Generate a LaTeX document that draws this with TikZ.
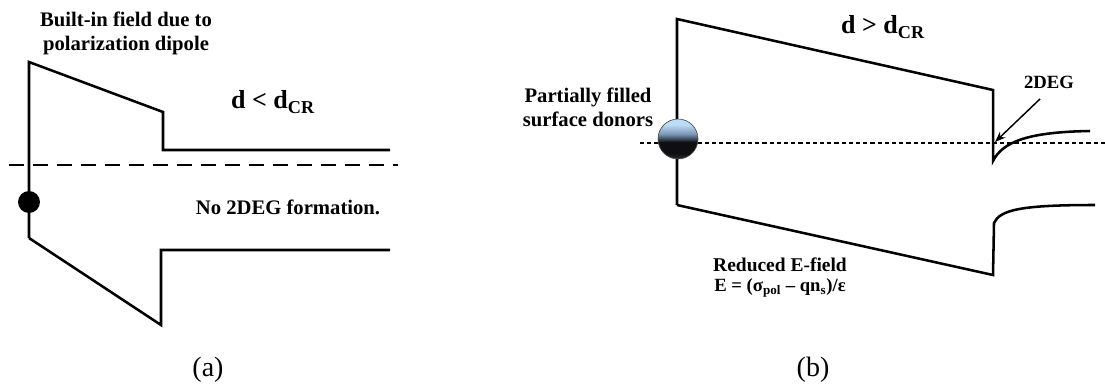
\documentclass[tikz,border=0pt]{standalone}
\usepackage{fontspec}
\setmainfont{Liberation Serif}
\usetikzlibrary{arrows.meta}
\definecolor{ballblue}{RGB}{190,220,245}
\definecolor{ballmid}{RGB}{120,150,180}
\definecolor{balldark}{RGB}{15,15,18}
\definecolor{ballbot}{RGB}{45,45,50}
\pgfdeclareverticalshading{donorball}{100bp}{color(0bp)=(ballbot); color(25bp)=(ballbot); color(32bp)=(balldark); color(46bp)=(balldark); color(56bp)=(ballmid); color(68bp)=(ballblue); color(75bp)=(ballblue); color(100bp)=(ballblue)}
\tikzset{
  band/.style={line width=1.9pt, line join=miter},
  lbl/.style={font=\bfseries\fontsize{15.5}{18}\selectfont, align=center, inner sep=0pt},
  midlbl/.style={font=\bfseries\fontsize{14.6}{17}\selectfont, align=center, inner sep=0pt},
  small/.style={font=\bfseries\fontsize{14}{16}\selectfont, align=center, inner sep=0pt},
  big/.style={font=\bfseries\fontsize{19.5}{22}\selectfont, inner sep=0pt},
  figcap/.style={font=\fontsize{21}{24}\selectfont, inner sep=0pt},
  fermidash/.style={line width=1.3pt, dash pattern=on 11pt off 7pt},
  fermidot/.style={line width=1.3pt, dash pattern=on 3.2pt off 2.2pt},
  pointer/.style={line width=1.1pt, -{Stealth[length=8pt,width=6pt]}}
}
\begin{document}
\begin{tikzpicture}[x=0.75pt,y=-0.75pt]
\useasboundingbox (0,0) rectangle (1105,385);
% ---------------- (a) ----------------
\draw[fermidash] (9,165) -- (398,165);
\draw[band] (29,238) -- (29,62) -- (163,112) -- (163,150) -- (390,150);
\draw[band] (390,250) -- (161,250) -- (161,325) -- (29,238);
\fill (29,202) circle (11);
\node[lbl] (bif) at (126,33) {Built-in field due to\\polarization dipole};
\node[big] (dlt) at (273,102) {d {<} d\textsubscript{CR}};
\node[lbl] (no2deg) at (288,207) {No 2DEG formation.};
\node[figcap] (capa) at (208,370) {(a)};
% ---------------- (b) ----------------
\draw[fermidot] (640,143) -- (1105,143);
\draw[band] (677,205) -- (677,19) -- (993,90) -- (993,161) .. controls (1003,141) and (1030,132) .. (1090,131);
\draw[band] (677,205) -- (993,275) -- (994,223) .. controls (1000,210) and (1020,205) .. (1095,205);
\shade[shading=donorball, draw=gray!60!black, line width=0.5pt] (678,139) circle (20);
\node[lbl] (psd) at (588,107) {Partially filled\\surface donors};
\node[big] (dgt) at (883,27) {d {>} d\textsubscript{CR}};
\node[small] (deg) at (1049,82) {2DEG};
\coordinate (tdeg) at (1040,99);
\coordinate (hdeg) at (995,142);
\draw[pointer] (tdeg) -- (hdeg);
\node[midlbl] (ref) at (780,265) {Reduced E-field};
\node[small] (eq) at (780,288) {E = (σ\textsubscript{pol} – qn\textsubscript{s})/ε};
\node[figcap] (capb) at (813,370) {(b)};
\end{tikzpicture}
\end{document}
